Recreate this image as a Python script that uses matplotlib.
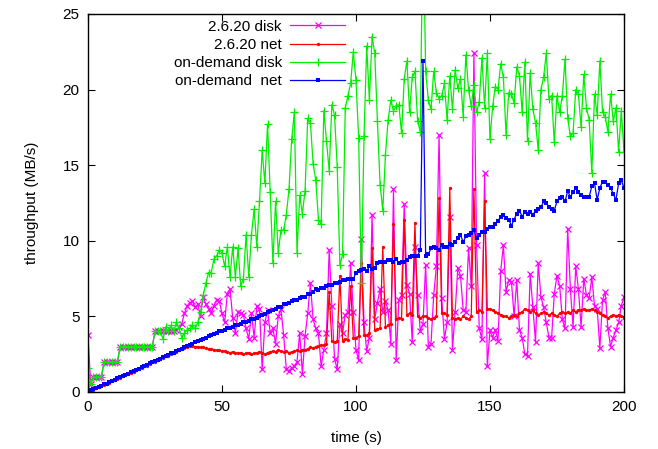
import matplotlib
matplotlib.use("Agg")
import matplotlib.pyplot as plt
import numpy as np

plt.rcParams['font.family'] = ['Liberation Sans', 'DejaVu Sans']

# one sample per second, 0..200 s
t = np.arange(201)

# 2.6.20 disk throughput (MB/s)
disk_2620 = [
    3.8, 0.5, 1.0, 1.0, 1.0, 1.0, 2.0, 2.0, 2.0, 2.0,
    2.0, 2.0, 3.0, 3.0, 3.0, 3.0, 3.0, 3.0, 3.0, 3.0,
    3.0, 3.0, 3.0, 3.0, 3.0, 4.0, 4.0, 4.0, 4.0, 4.0,
    4.0, 4.0, 4.0, 4.1, 4.3, 4.5, 5.2, 5.7, 5.9, 6.0,
    5.6, 5.8, 5.0, 6.3, 5.8, 5.5, 5.2, 5.7, 6.1, 6.0,
    5.2, 4.6, 6.5, 6.8, 4.9, 3.9, 5.3, 5.2, 5.1, 4.2,
    3.5, 5.2, 3.6, 5.7, 5.5, 1.5, 4.6, 5.4, 3.9, 4.2,
    3.2, 5.0, 5.5, 3.8, 1.5, 1.4, 1.6, 1.7, 2.0, 3.9,
    1.2, 3.7, 5.2, 7.2, 4.8, 4.2, 3.9, 1.7, 2.8, 3.9,
    9.4, 5.7, 2.2, 1.5, 4.5, 3.9, 5.1, 5.3, 8.5, 5.3,
    2.8, 2.1, 10.1, 4.6, 2.7, 3.6, 11.7, 4.8, 5.9, 6.8,
    5.3, 6.0, 5.4, 3.2, 13.4, 2.1, 6.1, 6.4, 12.4, 7.1,
    6.5, 3.3, 9.6, 6.4, 4.0, 4.5, 8.4, 3.0, 3.2, 6.4,
    8.3, 17.0, 6.2, 3.5, 4.6, 11.6, 2.8, 5.3, 8.2, 7.7,
    5.4, 5.3, 9.5, 7.0, 22.4, 9.7, 4.2, 3.5, 14.5, 1.7,
    4.1, 3.6, 4.1, 3.4, 8.0, 9.7, 6.6, 7.4, 7.3, 5.0,
    7.4, 4.1, 3.6, 2.5, 2.4, 7.8, 5.6, 3.3, 8.5, 6.3,
    5.6, 4.6, 3.6, 3.6, 6.5, 7.7, 7.0, 4.8, 4.2, 10.8,
    6.8, 4.3, 8.3, 6.8, 4.3, 7.5, 6.4, 6.2, 7.6, 5.7,
    5.5, 2.9, 6.1, 6.6, 4.2, 3.0, 3.6, 4.1, 4.6, 5.7,
    6.3,
]

# 2.6.20 network throughput (MB/s)
net_2620 = [
    0.0, 0.1, 0.15, 0.25, 0.3, 0.4, 0.45, 0.55, 0.6, 0.7,
    0.8, 0.85, 0.95, 1.05, 1.1, 1.2, 1.25, 1.35, 1.45, 1.5,
    1.6, 1.7, 1.75, 1.85, 1.95, 2.0, 2.1, 2.2, 2.25, 2.35,
    2.4, 2.5, 2.6, 2.65, 2.75, 2.85, 2.9, 3.0, 3.05, 3.05,
    3.0, 3.0, 2.95, 2.95, 2.9, 2.85, 2.85, 2.8, 2.75, 2.75,
    2.7, 2.7, 2.65, 2.6, 2.65, 2.6, 2.55, 2.6, 2.5, 2.55,
    2.6, 2.5, 2.55, 2.6, 2.65, 2.6, 2.5, 2.6, 2.65, 2.7,
    2.65, 2.8, 2.7, 2.65, 2.7, 2.6, 2.65, 2.7, 2.75, 2.7,
    2.8, 2.8, 2.85, 2.95, 2.9, 3.0, 3.05, 3.1, 3.1, 3.15,
    6.6, 3.35, 3.3, 3.35, 7.7, 3.4, 3.5, 3.45, 7.0, 3.6,
    3.6, 3.7, 8.5, 3.8, 3.75, 3.9, 9.5, 4.1, 4.15, 4.2,
    9.6, 4.3, 4.4, 4.5, 11.1, 4.8, 4.9, 4.85, 11.4, 5.1,
    5.2, 5.1, 11.2, 5.0, 4.9, 5.0, 5.0, 4.9, 4.8, 4.9,
    5.0, 12.8, 5.2, 5.2, 5.1, 13.5, 4.9, 4.8, 4.9, 4.8,
    5.0, 4.9, 4.8, 5.0, 13.4, 5.3, 5.4, 5.3, 12.6, 5.5,
    5.5, 5.4, 5.3, 5.2, 5.1, 5.0, 5.0, 4.9, 5.0, 5.1,
    5.0, 5.2, 5.3, 5.5, 5.4, 5.3, 5.4, 5.2, 5.1, 5.2,
    5.3, 5.2, 5.1, 5.2, 5.1, 5.0, 5.2, 5.3, 5.2, 5.3,
    5.2, 5.4, 5.3, 5.4, 5.4, 5.5, 5.4, 5.4, 5.5, 5.4,
    5.3, 5.2, 5.1, 5.0, 4.9, 5.0, 5.1, 5.0, 5.1, 5.0,
    4.9,
]

# on-demand disk throughput (MB/s)
disk_ondemand = [
    1.6, 0.5, 1.0, 1.0, 1.0, 1.0, 2.0, 2.0, 2.0, 2.0,
    2.0, 2.0, 3.0, 3.0, 3.0, 3.0, 3.0, 3.0, 3.0, 3.0,
    3.0, 3.0, 3.0, 3.0, 3.0, 4.0, 4.0, 4.0, 3.5, 4.3,
    4.0, 4.4, 4.0, 4.6, 4.2, 3.6, 3.9, 4.1, 4.2, 4.4,
    4.2, 4.6, 5.3, 6.4, 7.2, 7.9, 7.9, 8.8, 9.0, 9.4,
    9.2, 8.3, 9.6, 7.6, 9.6, 7.6, 9.5, 7.0, 7.5, 10.4,
    7.6, 10.4, 12.1, 9.6, 12.6, 16.0, 13.8, 17.7, 13.2, 8.5,
    12.6, 9.2, 10.7, 10.7, 11.7, 13.4, 16.7, 18.5, 9.2, 13.0,
    11.8, 13.3, 18.1, 17.8, 15.1, 14.0, 11.4, 11.1, 18.6, 16.6,
    14.6, 19.0, 18.3, 14.9, 8.4, 9.1, 18.8, 19.6, 20.4, 22.5,
    20.6, 16.8, 7.2, 16.9, 22.9, 19.3, 23.5, 22.4, 17.9, 13.7,
    12.0, 15.7, 18.0, 19.3, 18.6, 18.9, 19.0, 17.1, 20.7, 21.9,
    18.5, 20.8, 21.2, 17.9, 17.2, 32.0, 21.2, 19.3, 18.7, 21.2,
    19.8, 19.4, 19.6, 20.4, 18.0, 20.9, 18.7, 21.3, 20.1, 20.7,
    18.2, 22.3, 20.0, 18.9, 20.3, 18.5, 19.2, 22.1, 18.8, 22.4,
    16.7, 18.9, 20.2, 20.0, 21.7, 20.8, 17.0, 19.8, 19.7, 19.1,
    21.5, 20.9, 18.5, 21.8, 16.6, 21.1, 18.7, 17.8, 16.0, 20.0,
    20.8, 22.4, 19.4, 19.6, 16.5, 19.6, 18.5, 19.6, 22.0, 18.1,
    16.9, 17.1, 20.0, 19.7, 17.5, 21.0, 18.8, 18.0, 14.5, 19.7,
    18.3, 21.9, 18.5, 18.2, 17.2, 19.7, 17.9, 18.8, 15.9, 18.6,
    15.9,
]

# on-demand network throughput (MB/s)
net_ondemand = [
    0.0, 0.1, 0.2, 0.25, 0.3, 0.4, 0.5, 0.55, 0.65, 0.75,
    0.8, 0.9, 1.0, 1.05, 1.15, 1.2, 1.3, 1.4, 1.45, 1.55,
    1.65, 1.7, 1.8, 1.9, 1.95, 2.05, 2.1, 2.2, 2.3, 2.35,
    2.45, 2.55, 2.6, 2.7, 2.8, 2.85, 2.95, 3.05, 3.1, 3.2,
    3.3, 3.35, 3.45, 3.5, 3.6, 3.7, 3.75, 3.85, 3.9, 4.0,
    4.05, 4.1, 4.2, 4.25, 4.3, 4.4, 4.45, 4.5, 4.6, 4.65,
    4.7, 4.8, 4.85, 4.9, 5.0, 5.1, 5.15, 5.3, 5.35, 5.4,
    5.5, 5.6, 5.65, 5.8, 5.85, 5.9, 6.0, 6.1, 6.05, 6.2,
    6.3, 6.25, 6.5, 6.45, 6.6, 6.8, 6.75, 6.9, 6.85, 7.0,
    7.1, 7.05, 7.2, 7.2, 7.3, 7.4, 7.4, 7.5, 7.5, 7.45,
    7.9, 8.0, 8.05, 8.1, 8.0, 8.3, 8.1, 8.2, 8.5, 8.6,
    8.6, 8.6, 8.7, 8.75, 8.6, 8.8, 8.5, 8.6, 8.6, 8.7,
    8.9, 9.0, 9.0, 9.0, 9.4, 21.9, 9.0, 9.1, 9.5, 9.6,
    9.5, 9.4, 9.7, 9.6, 9.6, 9.8, 9.7, 9.9, 10.2, 10.4,
    9.9, 10.3, 10.4, 10.5, 10.7, 10.2, 10.4, 10.6, 10.6, 10.8,
    10.9, 10.9, 11.1, 11.3, 11.6, 11.7, 11.5, 11.4, 11.0, 11.4,
    11.8, 12.0, 11.6, 11.9, 11.8, 11.9, 11.7, 12.0, 12.1, 12.2,
    12.6, 12.5, 12.2, 12.1, 12.0, 12.6, 12.8, 12.9, 12.6, 13.3,
    12.9, 13.2, 13.5, 13.2, 13.0, 12.9, 12.9, 12.9, 13.6, 13.8,
    12.7, 13.5, 13.9, 13.9, 13.7, 13.5, 13.1, 12.7, 13.8, 14.0,
    13.5,
]

fig = plt.figure(figsize=(6.58, 4.49), dpi=100)
ax = fig.add_axes([0.1337, 0.127, 0.8146, 0.842])

ax.plot(t, disk_2620, color='#ff00ff', lw=0.9, marker='x', ms=5, mew=0.9,
        label='2.6.20 disk')
ax.plot(t, net_2620, color='#ff0000', lw=0.9, marker='o', ms=2.4, mew=0,
        label='2.6.20 net')
ax.plot(t, disk_ondemand, color='#00ee00', lw=0.9, marker='+', ms=5.5, mew=0.9,
        label='on-demand disk')
ax.plot(t, net_ondemand, color='#0000ff', lw=0.9, marker='s', ms=3.2, mew=0,
        label='on-demand  net')

ax.set_xlim(0, 200)
ax.set_ylim(0, 25)
ax.set_xticks([0, 50, 100, 150, 200])
ax.set_yticks([0, 5, 10, 15, 20, 25])
ax.tick_params(direction='in', length=5, width=0.8, top=True, right=True,
               labelsize=11, pad=6)
for s in ax.spines.values():
    s.set_linewidth(1.0)

ax.set_xlabel('time (s)', fontsize=11, labelpad=12)
ax.set_ylabel('throughput (MB/s)', fontsize=11, labelpad=17)

leg = ax.legend(loc='upper right', bbox_to_anchor=(0.48, 0.985), frameon=False,
                markerfirst=False, numpoints=1, fontsize=11,
                handlelength=3.6, handletextpad=0.55, labelspacing=0.28,
                borderpad=0, borderaxespad=0)

plt.savefig('out.png', dpi=100)
